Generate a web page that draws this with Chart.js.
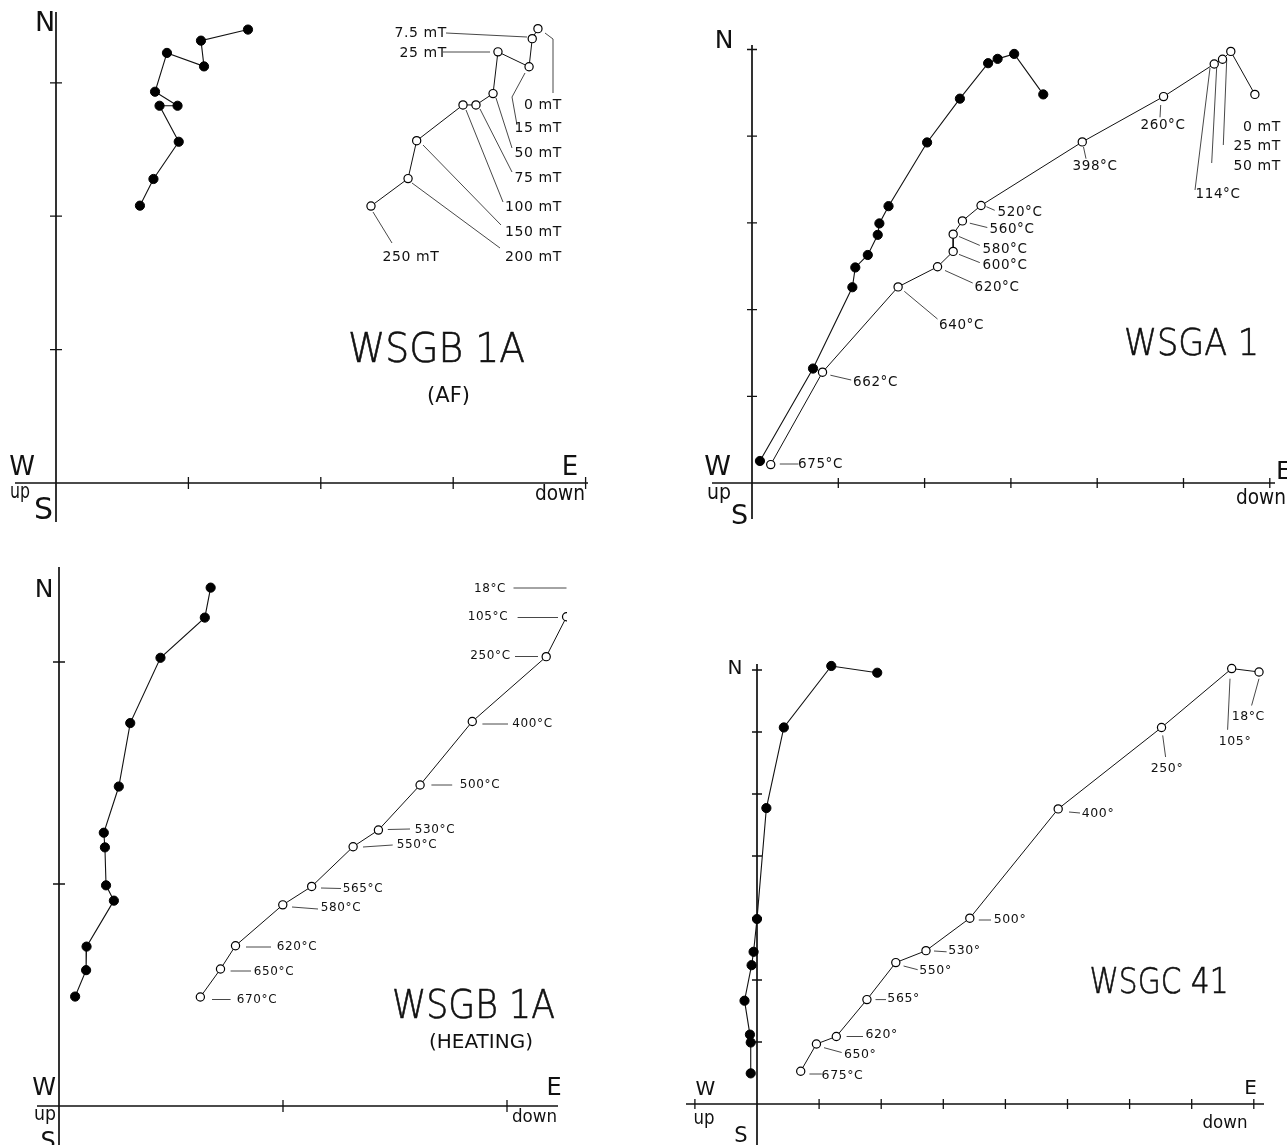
<!DOCTYPE html>
<html><head><meta charset="utf-8">
<script src="https://cdn.jsdelivr.net/npm/chart.js@4.4.1/dist/chart.umd.min.js"></script>
<style>
html,body{margin:0;padding:0;background:#fff;}
body{width:1287px;height:1145px;position:relative;overflow:hidden;}
canvas{position:absolute;}
</style></head><body>
<canvas id="c1"></canvas><canvas id="c2"></canvas><canvas id="c3"></canvas><canvas id="c4"></canvas>
<script>
// ---------- DATA (axis units of each diagram) ----------
// Panel 1: WSGB 1A, AF demagnetisation
const P1_STEPS   = ['0 mT','7.5 mT','15 mT','25 mT','50 mT','75 mT','100 mT','150 mT','200 mT','250 mT'];
const P1_HORIZ_E = [1.450,1.095,1.118,0.838,0.748,0.918,0.782,0.927,0.736,0.634];
const P1_HORIZ_N = [3.399,3.316,3.123,3.224,2.933,2.828,2.828,2.558,2.279,2.079];
const P1_VERT_D  = [3.640,3.597,3.573,3.338,3.301,3.172,3.074,2.724,2.659,2.379];
const P1_VERT_N  = [3.406,3.331,3.120,3.232,2.919,2.834,2.834,2.566,2.282,2.076];
const P1_XTICKS  = [1,2,3,4];
const P1_YTICKS  = [1,2,3];

// Panel 2: WSGA 1
const P2_STEPS   = ['0 mT','25 mT','50 mT','114°C','260°C','398°C','520°C','560°C','580°C','600°C','620°C','640°C','662°C','675°C'];
const P2_HORIZ_E = [3.375,3.038,2.846,2.736,2.409,2.029,1.582,1.476,1.457,1.342,1.197,1.163,0.707,0.092];
const P2_HORIZ_N = [4.482,4.949,4.892,4.842,4.433,3.928,3.193,2.994,2.862,2.630,2.486,2.258,1.320,0.254];
const P2_VERT_D  = [5.827,5.548,5.452,5.356,4.769,3.827,2.654,2.438,2.331,2.331,2.150,1.693,0.817,0.217];
const P2_VERT_N  = [4.482,4.978,4.887,4.833,4.457,3.934,3.201,3.023,2.870,2.671,2.494,2.262,1.278,0.212];
const P2_XTICKS  = [1,2,3,4,5,6];
const P2_YTICKS  = [1,2,3,4,5];

// Panel 3: WSGB 1A, heating
const P3_STEPS   = ['18°C','105°C','250°C','400°C','500°C','530°C','550°C','565°C','580°C','620°C','650°C','670°C'];
const P3_HORIZ_E = [0.677,0.651,0.453,0.318,0.267,0.200,0.205,0.210,0.245,0.123,0.121,0.072];
const P3_HORIZ_N = [2.335,2.200,2.019,1.725,1.439,1.231,1.165,0.994,0.925,0.718,0.612,0.493];
const P3_VERT_D  = [2.410,2.266,2.175,1.845,1.612,1.426,1.313,1.128,0.999,0.788,0.721,0.631];
const P3_VERT_N  = [2.335,2.204,2.024,1.732,1.446,1.243,1.168,0.989,0.906,0.722,0.617,0.491];
const P3_XTICKS  = [1,2];
const P3_YTICKS  = [1,2];

// Panel 4: WSGC 41
const P4_STEPS   = ['18°C','105°','250°','400°','500°','530°','550°','565°','620°','650°','675°C'];
const P4_HORIZ_E = [1.936,1.196,0.432,0.151,0.000,-0.055,-0.087,-0.201,-0.114,-0.101,-0.101];
const P4_HORIZ_N = [6.956,7.065,6.073,4.773,2.984,2.455,2.239,1.666,1.119,0.992,0.494];
const P4_VERT_D  = [8.084,7.644,6.514,4.850,3.427,2.721,2.235,1.770,1.277,0.957,0.704];
const P4_VERT_N  = [6.968,7.023,6.073,4.760,2.997,2.473,2.281,1.684,1.089,0.968,0.529];
const P4_XTICKS  = [-1,1,2,3,4,5,6,7,8];
const P4_YTICKS  = [1,2,3,4,5,6,7];

// ---------- LAYOUT / ANNOTATIONS (page pixels) ----------
const FONT = '"DejaVu Sans", "Liberation Sans", sans-serif';
const PANELS = [
 { id:'c1', left:0, top:0, w:640, h:560, ox:56, oy:483, ux:132.4, uy:133.4,
   hAxis:[15,588], vAxis:[12,522], tick:6,
   data:[P1_HORIZ_E,P1_HORIZ_N,P1_VERT_D,P1_VERT_N], xt:P1_XTICKS, yt:P1_YTICKS, steps:P1_STEPS,
   notes:[
    ['7.5 mT',447,33,14,'right'],['25 mT',447,53,14,'right'],
    ['0 mT',562,105,14,'right'],['15 mT',562,128,14,'right'],['50 mT',562,153,14,'right'],
    ['75 mT',562,178,14,'right'],['100 mT',562,207,14,'right'],['150 mT',562,232,14,'right'],
    ['200 mT',562,257,14,'right'],['250 mT',411,257,14,'center'],
    ['WSGB 1A',436.5,351,41,'center',177,'title'],['(AF)',448.5,396.5,21,'center',47],
    ['N',45,24,27,'center'],['W',22,468,26,'center'],['up',20,493,21,'center',20],
    ['S',43.5,511,30,'center'],['E',570,468,26,'center'],['down',560,495,21,'center',50]
   ],
   leaders:[[446,33,527,37],[443,52,490,52],[553,93,553,39,545,33],[517,125,512,97,525,73],
    [512,148,496,98],[512,172,480,109],[503,202,466,110],[501,225,423,145],[500,248,412,183],[392,243,373,212]]
 },
 { id:'c2', left:640, top:0, w:647, h:560, ox:752, oy:483, ux:86.3, uy:86.7,
   hAxis:[712,1275], vAxis:[45,519], tick:5,
   data:[P2_HORIZ_E,P2_HORIZ_N,P2_VERT_D,P2_VERT_N], xt:P2_XTICKS, yt:P2_YTICKS, steps:P2_STEPS,
   notes:[
    ['260°C',1163,125,13.5,'center'],['398°C',1095,166,13.5,'center'],['114°C',1218,194,13.5,'center'],
    ['0 mT',1281,127,14,'right'],['25 mT',1281,146,14,'right'],['50 mT',1281,166,14,'right'],
    ['520°C',1020,212.5,13.5,'center'],['560°C',1012,229.5,13.5,'center'],['580°C',1005,249,13.5,'center'],
    ['600°C',1005,265.5,13.5,'center'],['620°C',997,287,13.5,'center'],['640°C',961.5,325.5,13.5,'center'],
    ['662°C',875.5,382.5,13.5,'center'],['675°C',820.5,464.5,13.5,'center'],
    ['WSGA 1',1191.5,345,37,'center',135,'title'],
    ['N',724,41,25,'center'],['W',717.5,468,27,'center'],['up',719,493,22,'center',24],
    ['S',739.5,517,27,'center'],['E',1276,472,25,'left'],['down',1286,499,21,'right',50]
   ],
   leaders:[[1160.7,105,1160,117.3],[1083.5,147,1086,158.7],[1210,68,1195,190],[1216.7,67,1211.7,163],
    [1226.7,60,1223.3,145],[986.4,206.7,994.7,210.3],[969.8,223.2,987.3,227.5],[959,236.5,979.8,245.4],
    [959,254.4,979.8,262.6],[945,270.5,972.7,283],[904.3,291.3,937.5,319],[830.4,375.2,851.2,380],[779.8,464,798.5,464]]
 },
 { id:'c3', left:0, top:560, w:567, h:585, ox:59, oy:1106, ux:224, uy:222,
   hAxis:[37,558], vAxis:[567,1145], tick:6,
   data:[P3_HORIZ_E,P3_HORIZ_N,P3_VERT_D,P3_VERT_N], xt:P3_XTICKS, yt:P3_YTICKS, steps:P3_STEPS,
   notes:[
    ['18°C',490,588.5,12,'center'],['105°C',488,617,12,'center'],['250°C',490.5,655.5,12,'center'],
    ['400°C',532.5,724,12,'center'],['500°C',480,784.5,12,'center'],['530°C',435,829.5,12,'center'],
    ['550°C',417,845,12,'center'],['565°C',363,888.5,12,'center'],['580°C',341,908,12,'center'],
    ['620°C',297,947,12,'center'],['650°C',274,971.5,12,'center'],['670°C',257,999.5,12,'center'],
    ['WSGB 1A',473.4,1007.5,39,'center',163,'title'],['(HEATING)',481,1042.5,20,'center',116],
    ['N',44,590,25,'center'],['W',44,1089,24,'center'],['up',45,1115,20,'center',22],
    ['down',557,1117.5,18,'right',45],['E',554,1089,24,'center'],['S',48,1143,24,'center']
   ],
   leaders:[[513.5,588,566.5,588],[517.6,617.5,558,617.5],[515,656.5,538,656.5],[482.4,724,508,724],
    [431.4,785,452.2,785],[387.8,829.5,410,829],[363,847,392.7,845],[321,888,341,888.5],[292,907,318,909],
    [246,947,271,947],[230.6,971,251,971],[212,999.5,230.6,999.5]]
 },
 { id:'c4', left:640, top:560, w:647, h:585, ox:757, oy:1104, ux:62.1, uy:62,
   hAxis:[686,1264], vAxis:[664,1150], tick:5,
   data:[P4_HORIZ_E,P4_HORIZ_N,P4_VERT_D,P4_VERT_N], xt:P4_XTICKS, yt:P4_YTICKS, steps:P4_STEPS,
   notes:[
    ['18°C',1248.3,716.7,12.5,'center'],['105°',1235,742,12.5,'center'],['250°',1167,769,12.5,'center'],
    ['400°',1098,813.7,12.5,'center'],['500°',1010,920,12.5,'center'],['530°',964.4,951,12.5,'center'],
    ['550°',935.5,971,12.5,'center'],['565°',903.6,999.2,12.5,'center'],['620°',881.7,1035,12.5,'center'],
    ['650°',860.2,1054.4,12.5,'center'],['675°C',842.5,1076,12.5,'center'],
    ['WSGC 41',1159,983.5,36,'center',139,'title'],
    ['N',735,668.6,20,'center'],['W',705.5,1089.5,20,'center'],['up',704,1119,20,'center',21],
    ['S',741,1137,21,'center'],['E',1250.5,1089,20,'center'],['down',1225,1123.5,17,'center',45]
   ],
   leaders:[[1259,678.7,1251.6,705.5],[1230,678.7,1227.6,729.8],[1162.7,735.4,1165.6,757],[1069,812,1080,813],
    [978.8,920,991,920],[934,951,946.6,951.8],[903.6,966,917.7,969.7],[875.5,999.6,886,999.6],
    [846.6,1036.5,863,1036.5],[824,1047.7,841.7,1052.5],[809.4,1074,821.8,1074]]
 }
];

function zijPlugin(cfg){
  return {
    id:'zij_'+cfg.id,
    beforeDatasetsDraw(chart){
      const ctx = chart.ctx, xs = chart.scales.x, ys = chart.scales.y;
      const x0 = xs.getPixelForValue(0), y0 = ys.getPixelForValue(0);
      ctx.save();
      ctx.strokeStyle = '#111'; ctx.lineWidth = 1.7; ctx.lineCap = 'butt';
      ctx.beginPath();
      ctx.moveTo(cfg.hAxis[0]-cfg.left, y0); ctx.lineTo(cfg.hAxis[1]-cfg.left, y0);
      ctx.moveTo(x0, cfg.vAxis[0]-cfg.top); ctx.lineTo(x0, cfg.vAxis[1]-cfg.top);
      ctx.stroke();
      ctx.lineWidth = 1.3;
      ctx.beginPath();
      cfg.xt.forEach(t => { const p = xs.getPixelForValue(t); ctx.moveTo(p, y0-cfg.tick); ctx.lineTo(p, y0+cfg.tick); });
      cfg.yt.forEach(t => { const p = ys.getPixelForValue(t); ctx.moveTo(x0-cfg.tick, p); ctx.lineTo(x0+cfg.tick, p); });
      ctx.stroke();
      // leader lines
      ctx.strokeStyle = '#333'; ctx.lineWidth = 0.9;
      cfg.leaders.forEach(L => {
        ctx.beginPath();
        ctx.moveTo(L[0]-cfg.left, L[1]-cfg.top);
        for (let i=2;i<L.length;i+=2) ctx.lineTo(L[i]-cfg.left, L[i+1]-cfg.top);
        ctx.stroke();
      });
      ctx.restore();
    },
    afterDatasetsDraw(chart){
      const ctx = chart.ctx;
      ctx.save();
      ctx.fillStyle = '#111'; ctx.strokeStyle = '#111'; ctx.textBaseline = 'middle';
      cfg.notes.forEach(n => {
        const [s,x,y,size,align,maxW,kind] = n;
        ctx.font = (kind==='title' ? '200 ' : '400 ') + size + 'px ' + FONT;
        ctx.textAlign = align;
        try { ctx.letterSpacing = (size < 16 && s.length > 2) ? '0.6px' : '0px'; } catch(e){}
        const px = x-cfg.left, py = y-cfg.top;
        if (maxW) ctx.fillText(s, px, py, maxW); else ctx.fillText(s, px, py);
        if (kind==='title') { ctx.lineWidth = 0.6; ctx.strokeText(s, px, py, maxW); }
      });
      ctx.restore();
    }
  };
}

PANELS.forEach(cfg => {
  const cv = document.getElementById(cfg.id);
  cv.width = cfg.w; cv.height = cfg.h;
  cv.style.left = cfg.left+'px'; cv.style.top = cfg.top+'px';
  cv.style.width = cfg.w+'px'; cv.style.height = cfg.h+'px';
  const xmin = (cfg.left - cfg.ox)/cfg.ux, xmax = (cfg.left + cfg.w - cfg.ox)/cfg.ux;
  const ymax = (cfg.oy - cfg.top)/cfg.uy, ymin = (cfg.oy - cfg.top - cfg.h)/cfg.uy;
  const [hE,hN,vD,vN] = cfg.data;
  const pts = (a,b) => a.map((v,i)=>({x:v, y:b[i]}));
  new Chart(cv, {
    type:'line',
    data:{
      labels: cfg.steps,
      datasets:[
        { label:'horizontal', data:pts(hE,hN), borderColor:'#111', borderWidth:1.1,
          pointRadius:4.6, pointBackgroundColor:'#000', pointBorderColor:'#000', pointBorderWidth:1,
          tension:0, clip:false, fill:false },
        { label:'vertical', data:pts(vD,vN), borderColor:'#111', borderWidth:1.0,
          pointRadius:4.1, pointBackgroundColor:'#fff', pointBorderColor:'#000', pointBorderWidth:1.2,
          tension:0, clip:false, fill:false }
      ]
    },
    options:{
      responsive:false, animation:false, devicePixelRatio:1,
      layout:{ padding:0, autoPadding:false },
      parsing:true,
      scales:{
        x:{ type:'linear', min:xmin, max:xmax, display:false },
        y:{ type:'linear', min:ymin, max:ymax, display:false }
      },
      plugins:{ legend:{display:false}, tooltip:{enabled:false}, title:{display:false} },
      events:[]
    },
    plugins:[ zijPlugin(cfg) ]
  });
});
</script>
</body></html>
